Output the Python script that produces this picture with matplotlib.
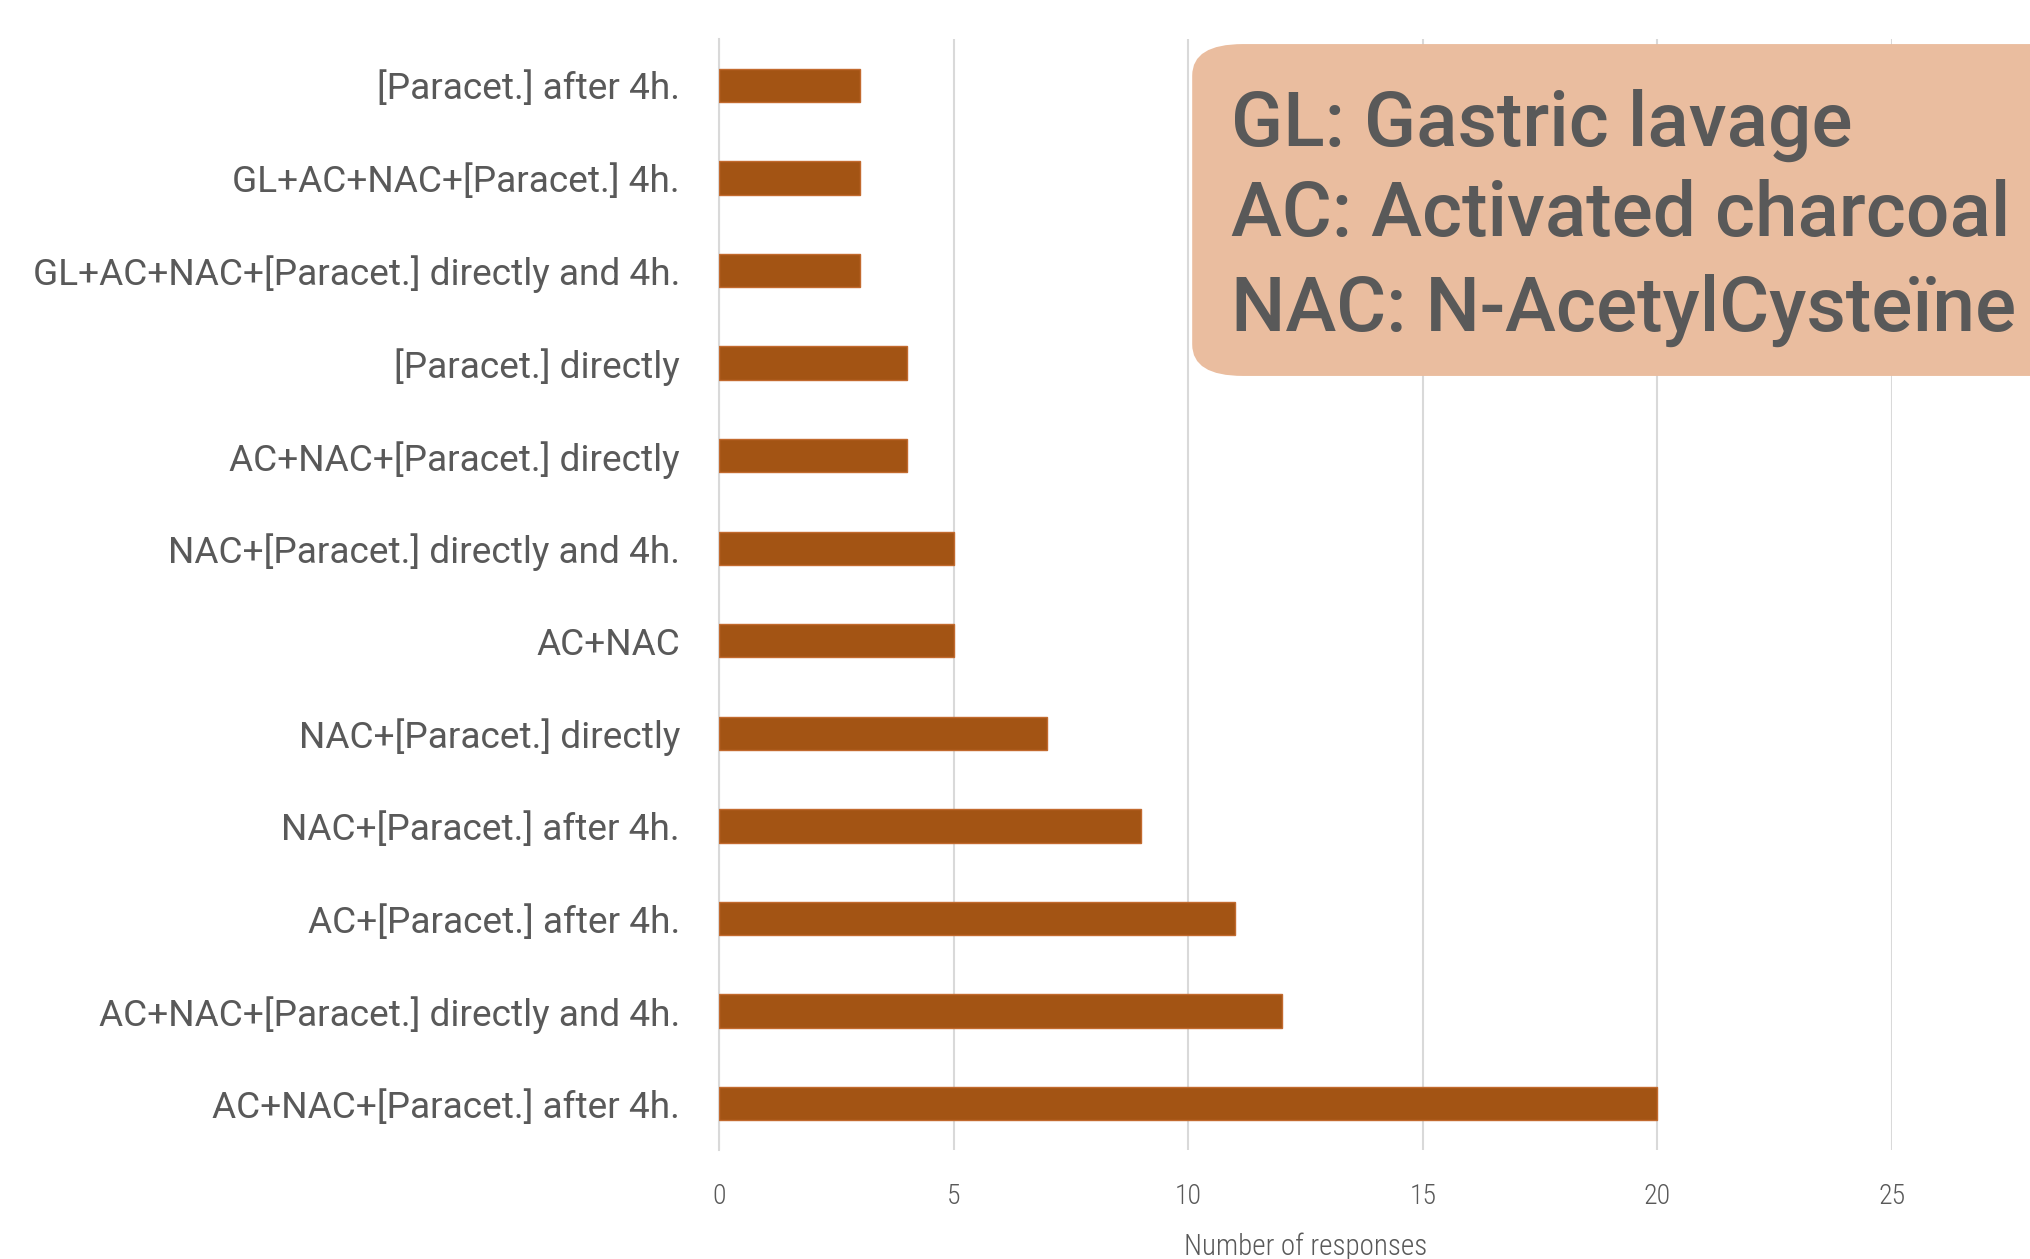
import matplotlib
matplotlib.use("Agg")
import matplotlib.pyplot as plt
from matplotlib.patches import FancyBboxPatch

# treatment combinations, top to bottom as shown
treatments = [
    "[Paracet.] after 4h.",
    "GL+AC+NAC+[Paracet.] 4h.",
    "GL+AC+NAC+[Paracet.] directly and 4h.",
    "[Paracet.] directly",
    "AC+NAC+[Paracet.] directly",
    "NAC+[Paracet.] directly and 4h.",
    "AC+NAC",
    "NAC+[Paracet.] directly",
    "NAC+[Paracet.] after 4h.",
    "AC+[Paracet.] after 4h.",
    "AC+NAC+[Paracet.] directly and 4h.",
    "AC+NAC+[Paracet.] after 4h.",
]
responses = [3, 3, 3, 4, 4, 5, 5, 7, 9, 11, 12, 20]
xticks = [0, 5, 10, 15, 20, 25]
legend_lines = ["GL: Gastric lavage", "AC: Activated charcoal", "NAC: N-AcetylCysteïne"]

TEXT = "#595959"
BAR = "#a35414"
MAIN_FONT = ["Roboto", "DejaVu Sans"]
AXIS_FONT = ["Roboto Condensed", "DejaVu Sans"]

plt.rcParams["font.family"] = MAIN_FONT

fig = plt.figure(figsize=(20.31, 12.59), dpi=100)
ax = fig.add_axes([0.354, 0.0866, 0.5776, 0.8824])

ypos = list(range(len(treatments)))
ax.barh(ypos, responses, height=0.36, color=BAR, edgecolor="#c26a2e", linewidth=1, zorder=3)
ax.set_ylim(len(treatments) - 0.5, -0.5)
ax.set_xlim(0, 25)

ax.set_yticks(ypos)
ylabels = ax.set_yticklabels(treatments, fontsize=24, color=TEXT)
ax.set_xticks(xticks)
ax.set_xticklabels([str(t) for t in xticks], fontsize=20, color=TEXT,
                   family=AXIS_FONT, fontweight="light")
ax.tick_params(axis="y", length=0, pad=28)
ax.tick_params(axis="x", length=0, pad=24)

ax.grid(axis="x", color="#d9d9d9", linewidth=1.5, zorder=0)
for s in ["top", "right", "bottom"]:
    ax.spines[s].set_visible(False)
ax.spines["left"].set_color("#d9d9d9")
ax.spines["left"].set_linewidth(1.5)

ax.set_xlabel("Number of responses", fontsize=21, color=TEXT, labelpad=16,
              family=AXIS_FONT, fontweight="light")

# abbreviation box, runs past the right edge
box = FancyBboxPatch((0.587, 0.7014), 0.5, 0.2636,
                     boxstyle="round,pad=0,rounding_size=0.025",
                     transform=fig.transFigure, facecolor="#eabd9f",
                     edgecolor="none", clip_on=False, zorder=5)
fig.patches.append(box)
legend_texts = []
for y, line in zip([0.9005, 0.829, 0.7535], legend_lines):
    legend_texts.append(fig.text(0.606, y, line, fontsize=54, color=TEXT,
                                 fontweight="medium", va="center", ha="left", zorder=6))

# fit text widths to the space the original labels take
fig.canvas.draw()
r = fig.canvas.get_renderer()
widest = max(t.get_window_extent(r).width for t in legend_texts)
for t in legend_texts:
    t.set_fontsize(54 * 785 / widest)
widest = max(t.get_window_extent(r).width for t in ylabels)
for t in ylabels:
    t.set_fontsize(24 * 648 / widest)

fig.savefig("out.png", dpi=100)
